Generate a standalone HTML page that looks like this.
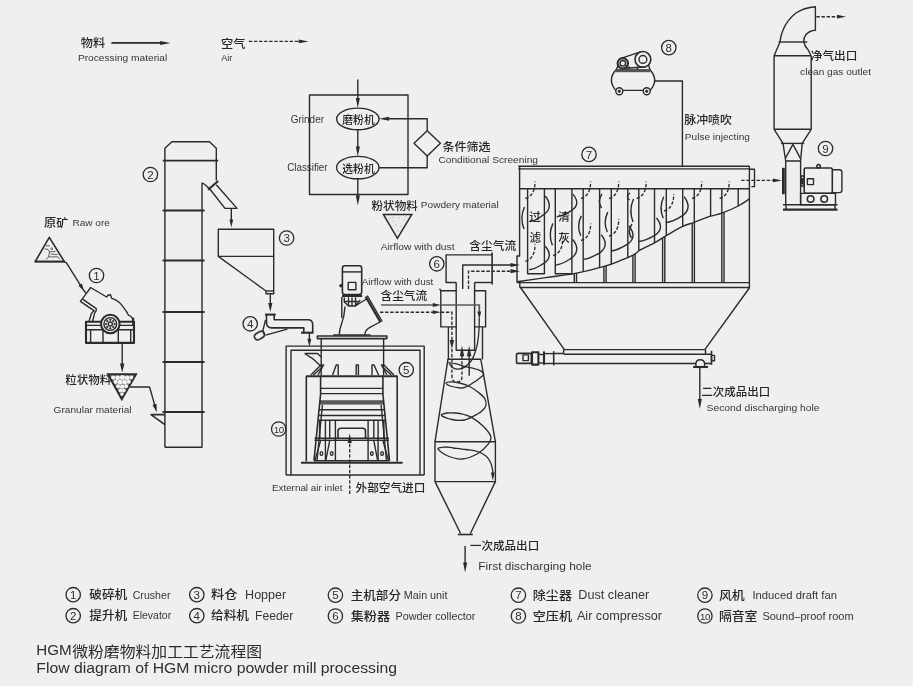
<!DOCTYPE html>
<html lang="zh">
<head>
<meta charset="utf-8">
<title>HGM微粉磨物料加工工艺流程图</title>
<style>
html,body{margin:0;padding:0;background:#efefef;}
body{width:913px;height:686px;overflow:hidden;}
svg{display:block;will-change:transform;}
text{font-family:"Liberation Sans","Noto Sans CJK SC",sans-serif;}
.l{fill:none;stroke:#2b2b2b;stroke-width:1.4;stroke-linejoin:round;stroke-linecap:butt;}
.s{fill:none;stroke:#2b2b2b;stroke-width:1.3;stroke-linejoin:round;}
.m{fill:none;stroke:#2b2b2b;stroke-width:1.6;stroke-linejoin:round;}
.t{fill:none;stroke:#2b2b2b;stroke-width:2.1;stroke-linejoin:round;}
.t2{fill:none;stroke:#2b2b2b;stroke-width:1.8;stroke-linejoin:round;}
.tt{fill:none;stroke:#2b2b2b;stroke-width:2.8;}
.gr{fill:none;stroke:#5a5a5a;stroke-width:1.7;}
.f{fill:none;stroke:#3a3a3a;stroke-width:0.8;}
.d{fill:none;stroke:#2b2b2b;stroke-width:1.35;stroke-dasharray:3.4 1.7;}
.d2{fill:none;stroke:#2b2b2b;stroke-width:1.3;stroke-dasharray:3.4 1.8;}
.ld{fill:none;stroke:#2b2b2b;stroke-width:1.1;stroke-dasharray:9 2;}
.k{fill:#2b2b2b;stroke:#2b2b2b;stroke-width:0.8;}
.w{fill:#efefef;stroke:#2b2b2b;stroke-width:1.4;}
.h{fill:#2b2b2b;stroke:none;}
.n{fill:none;stroke:#2b2b2b;stroke-width:1.3;}
.dot{fill:#999;stroke:none;}
.e{fill:#363636;}
.g{fill:#2e2e2e;}
.c{fill:#262626;font-weight:500;}
.tl{fill:#2e2e2e;}
.c2{fill:#2a2a2a;font-weight:400;}
</style>
</head>
<body>
<svg width="913" height="686" viewBox="0 0 913 686">
<rect x="0" y="0" width="913" height="686" fill="#efefef"/>
<text class="c" x="80.7" y="47.3" font-size="11.6" textLength="24.5" lengthAdjust="spacingAndGlyphs">物料</text>
<path class="m" d="M111.4 42.9 L164.3 42.9"/>
<polygon class="h" points="170.6,42.9 160.1,44.9 160.1,40.9"/>
<text class="e" x="77.9" y="60.5" font-size="9.5" textLength="89.4" lengthAdjust="spacingAndGlyphs">Processing material</text>
<text class="c" x="221.1" y="47.8" font-size="11.6" textLength="24.5" lengthAdjust="spacingAndGlyphs">空气</text>
<path class="d" d="M248.8 41.4 L302.6 41.4"/>
<polygon class="h" points="308.6,41.4 298.6,43.2 298.6,39.5"/>
<text class="e" x="221.2" y="60.5" font-size="9.5" textLength="11.1" lengthAdjust="spacingAndGlyphs">Air</text>
<rect class="l" x="309.5" y="95" width="98.5" height="99.5"/>
<line class="l" x1="357.8" y1="79.6" x2="357.8" y2="100"/>
<polygon class="h" points="357.8,108.1 355.8,98.1 359.9,98.1"/>
<line class="l" x1="357.8" y1="129.7" x2="357.8" y2="148"/>
<polygon class="h" points="357.8,156.4 355.8,146.4 359.9,146.4"/>
<line class="l" x1="357.8" y1="178.8" x2="357.8" y2="197"/>
<polygon class="h" points="357.8,205.6 355.8,195.6 359.9,195.6"/>
<ellipse class="l" cx="357.8" cy="118.9" rx="21.2" ry="10.8" stroke-width="1.5"/>
<ellipse class="l" cx="357.8" cy="167.6" rx="21.2" ry="11.2" stroke-width="1.5"/>
<text class="c" x="342.3" y="124.3" font-size="11.2" textLength="32.4" lengthAdjust="spacingAndGlyphs">磨粉机</text>
<text class="c" x="342.3" y="173.1" font-size="11.2" textLength="32.4" lengthAdjust="spacingAndGlyphs">选粉机</text>
<path class="l" d="M427.2 130.7 L440.4 143.3 L427.2 155.9 L414 143.3 Z"/>
<path class="l" d="M427.2 130.7 L427.2 118.7 L385 118.7"/>
<polygon class="h" points="379,118.7 389,116.7 389,120.8"/>
<path class="l" d="M427.2 155.9 L427.2 167.7 L379 167.7"/>
<text class="e" x="290.8" y="122.7" font-size="10.3" textLength="33.2" lengthAdjust="spacingAndGlyphs">Grinder</text>
<text class="e" x="287.2" y="171.1" font-size="10.3" textLength="40.4" lengthAdjust="spacingAndGlyphs">Classifier</text>
<text class="c" x="442.5" y="150.5" font-size="11.6" textLength="47.9" lengthAdjust="spacingAndGlyphs">条件筛选</text>
<text class="e" x="438.4" y="163" font-size="9.5" textLength="99.6" lengthAdjust="spacingAndGlyphs">Conditional Screening</text>
<text class="c" x="371.5" y="209.9" font-size="11.6" textLength="46.5" lengthAdjust="spacingAndGlyphs">粉状物料</text>
<text class="e" x="420.8" y="207.9" font-size="9.5" textLength="77.9" lengthAdjust="spacingAndGlyphs">Powdery material</text>
<polygon points="383.4,214.4 411.8,214.4 397.4,238.3" fill="#ebebeb" stroke="#2b2b2b" stroke-width="1.5"/>
<circle class="dot" cx="390" cy="218" r="0.6"/>
<circle class="dot" cx="394" cy="221" r="0.6"/>
<circle class="dot" cx="399" cy="218" r="0.6"/>
<circle class="dot" cx="404" cy="220" r="0.6"/>
<circle class="dot" cx="396" cy="225" r="0.6"/>
<circle class="dot" cx="401" cy="226" r="0.6"/>
<circle class="dot" cx="398" cy="231" r="0.6"/>
<circle class="dot" cx="393" cy="217.5" r="0.6"/>
<circle class="dot" cx="406" cy="217" r="0.6"/>
<text class="e" x="380.7" y="249.7" font-size="9.5" textLength="73.8" lengthAdjust="spacingAndGlyphs">Airflow with dust</text>
<text class="c" x="469.3" y="249.9" font-size="11.5" textLength="46.9" lengthAdjust="spacingAndGlyphs">含尘气流</text>
<text class="c" x="44" y="226.5" font-size="11.6" textLength="24.4" lengthAdjust="spacingAndGlyphs">原矿</text>
<text class="e" x="72.6" y="226" font-size="9.5" textLength="37.2" lengthAdjust="spacingAndGlyphs">Raw ore</text>
<path class="m" d="M35.2 261.6 L49.3 237.3 L64.3 261.6"/>
<line class="t" x1="34.6" y1="261.6" x2="65" y2="261.6"/>
<path class="f" d="M45.9 245.8 L50 245.8 M44.4 248.9 L48 249.4 L49.5 251.9 L48.5 257 L45.9 259.6 M49.5 251.9 L55.6 251.4 M50.5 254 L57.7 254.5 M48.5 257 L57.7 256.7 L59.7 259.1"/>
<circle class="f" cx="51.7" cy="248.7" r="0.9"/>
<path class="l" d="M64.3 261.8 L66.3 262.7 L81.8 287.3"/>
<polygon class="h" points="84.4,291.4 78.5,285.7 81.8,283.6"/>
<line class="l" x1="83" y1="289.4" x2="86" y2="293.3"/>
<circle class="n" cx="96.5" cy="275.5" r="7.2"/>
<text class="g" x="96.5" y="279.6" font-size="11.5" text-anchor="middle">1</text>
<path class="l" d="M89 321.5 L91.3 313.7 Q93 311.2 94.3 310.8 L80.4 301.3 L87 292.6 L90.6 287.5 L106.6 297 L108.2 295 L110.5 294.8 L111.7 298.4 Q119 300.5 122.7 306.4 Q126.5 311 128.5 315.2 Q132.5 316.5 133.2 321.5"/>
<path class="l" d="M82.6 299.2 L96.3 308.6 Q96.8 311 94.6 313.2 L92.6 321.5"/>
<rect class="t" x="86" y="321.7" width="48" height="21.2"/>
<line class="t" x1="133.2" y1="317.6" x2="133.2" y2="326"/>
<line class="l" x1="86" y1="325.4" x2="134" y2="325.4"/>
<line class="l" x1="86" y1="329.8" x2="134" y2="329.8"/>
<line class="l" x1="90.6" y1="329.8" x2="90.6" y2="342.9"/>
<line class="l" x1="103" y1="329.8" x2="103" y2="342.9"/>
<line class="l" x1="118.3" y1="329.8" x2="118.3" y2="342.9"/>
<line class="l" x1="130.7" y1="329.8" x2="130.7" y2="342.9"/>
<circle cx="110.3" cy="324" r="9.3" fill="#efefef" stroke="#2b2b2b" stroke-width="2"/>
<circle class="l" cx="110.3" cy="324" r="6.4"/>
<circle class="l" cx="110.3" cy="324" r="2"/>
<circle class="k" cx="114.6" cy="324" r="0.8"/>
<circle class="k" cx="113.3" cy="327" r="0.8"/>
<circle class="k" cx="110.3" cy="328.3" r="0.8"/>
<circle class="k" cx="107.3" cy="327" r="0.8"/>
<circle class="k" cx="106" cy="324" r="0.8"/>
<circle class="k" cx="107.3" cy="321" r="0.8"/>
<circle class="k" cx="110.3" cy="319.7" r="0.8"/>
<circle class="k" cx="113.3" cy="321" r="0.8"/>
<path class="l" d="M122.2 342.9 L122.2 367.2"/>
<polygon class="h" points="122.2,372.6 120,363.6 124.4,363.6"/>
<polygon points="108,374.2 136,374.2 121.8,399.1" fill="#777" stroke="#2b2b2b" stroke-width="2" stroke-linejoin="miter"/>
<circle cx="113.2" cy="377.6" r="2.1" fill="#f2f2f2"/>
<circle cx="117.6" cy="377.8" r="2.4" fill="#f2f2f2"/>
<circle cx="122.4" cy="377.6" r="2.5" fill="#f2f2f2"/>
<circle cx="127.2" cy="377.8" r="2.4" fill="#f2f2f2"/>
<circle cx="131.4" cy="377.4" r="1.9" fill="#f2f2f2"/>
<circle cx="115.6" cy="381.8" r="2.1" fill="#f2f2f2"/>
<circle cx="120" cy="382.2" r="2.4" fill="#f2f2f2"/>
<circle cx="124.6" cy="382.2" r="2.4" fill="#f2f2f2"/>
<circle cx="128.8" cy="381.8" r="2" fill="#f2f2f2"/>
<circle cx="118" cy="386.2" r="2" fill="#f2f2f2"/>
<circle cx="122.2" cy="386.6" r="2.2" fill="#f2f2f2"/>
<circle cx="126.2" cy="386.2" r="1.9" fill="#f2f2f2"/>
<circle cx="120.4" cy="390.4" r="1.9" fill="#f2f2f2"/>
<circle cx="123.8" cy="390.6" r="1.9" fill="#f2f2f2"/>
<circle cx="121.9" cy="394.2" r="1.6" fill="#f2f2f2"/>
<text class="c" x="65.3" y="383.8" font-size="11.6" textLength="46.1" lengthAdjust="spacingAndGlyphs">粒状物料</text>
<text class="e" x="53.6" y="413" font-size="9.5" textLength="78" lengthAdjust="spacingAndGlyphs">Granular material</text>
<path class="l" d="M129.8 387 L149.6 387 L155.4 407.6"/>
<polygon class="h" points="156.8,412.5 152.5,404.9 156.5,403.8"/>
<path class="l" d="M164.9 447.2 L164.9 148.2 L171.9 141.7 L209.5 141.7 L216.3 148.2 L216.3 180.5"/>
<path class="l" d="M204.5 184.2 L202 183.2 L202 447.2 L164.9 447.2"/>
<line class="t2" x1="162.8" y1="160.6" x2="218.2" y2="160.6"/>
<line class="t2" x1="162.6" y1="210.5" x2="204.6" y2="210.5"/>
<line class="t2" x1="162.6" y1="260.5" x2="204.6" y2="260.5"/>
<line class="t2" x1="162.6" y1="312" x2="204.6" y2="312"/>
<line class="t2" x1="162.6" y1="362" x2="204.6" y2="362"/>
<line class="t2" x1="162.6" y1="412" x2="204.6" y2="412"/>
<path class="l" d="M204.5 184.2 L209.8 189 L225 208.4 L237 208.4 L216.3 184.7"/>
<line class="t" x1="208" y1="189.8" x2="218.2" y2="181"/>
<path class="l" d="M231.3 208.4 L231.3 222.7"/>
<polygon class="h" points="231.3,227.5 229.5,219.5 233.2,219.5"/>
<path class="m" d="M164.9 414.6 L151 414.6 L164.9 424.7"/>
<circle class="n" cx="150.4" cy="174.5" r="7.2"/>
<text class="g" x="150.4" y="178.6" font-size="11.5" text-anchor="middle">2</text>
<path class="l" d="M218.3 256.4 L218.3 229.3 L273.7 229.3 L273.7 293.8 L266 293.8 L266 291 L218.3 256.4 L273.7 256.4"/>
<line class="l" x1="266" y1="291" x2="273.7" y2="291"/>
<path class="l" d="M270.3 294.2 L270.3 306.6"/>
<polygon class="h" points="270.3,312 268.2,303 272.4,303"/>
<circle class="n" cx="286.6" cy="238" r="7.2"/>
<text class="g" x="286.6" y="242.1" font-size="11.5" text-anchor="middle">3</text>
<line class="t" x1="265" y1="314.6" x2="275.7" y2="314.6"/>
<path class="m" d="M266.5 314.6 L266.5 322.6 Q266.5 327.9 271.8 327.9 L303.8 327.9 L303.8 332.4"/>
<path class="m" d="M274.2 314.6 L274.2 319.7 L308 319.7 Q312.7 319.7 312.7 324.6 L312.7 332.4"/>
<line class="t" x1="301" y1="332.7" x2="313.5" y2="332.7"/>
<path class="l" d="M265.6 320 L263 329.9 L264.2 334.2"/>
<path class="l" d="M287.4 329.1 L265.5 335.2"/>
<rect class="m" x="254.2" y="332.3" width="10.4" height="6.6" rx="3.3" transform="rotate(-30 259.4 335.6)"/>
<circle class="n" cx="250.2" cy="323.8" r="7.2"/>
<text class="g" x="250.2" y="327.9" font-size="11.5" text-anchor="middle">4</text>
<path class="l" d="M309.4 332.7 L309.4 341.9"/>
<polygon class="h" points="309.4,346.7 307.4,338.7 311.3,338.7"/>
<path class="l" d="M286.1 475 L286.1 346.1 L424.2 346.1 L424.2 475"/>
<path class="l" d="M291 475 L291 350.3 L420 350.3 L420 475"/>
<line class="l" x1="286.1" y1="475" x2="424.2" y2="475"/>
<circle class="n" cx="278.7" cy="429" r="7.2"/>
<text class="g" x="278.7" y="432.5" font-size="9.8" text-anchor="middle" letter-spacing="-0.6">10</text>
<circle class="n" cx="406.3" cy="369.7" r="7.2"/>
<text class="g" x="406.3" y="373.8" font-size="11.5" text-anchor="middle">5</text>
<rect class="m" x="342.4" y="265.7" width="19.3" height="28.8" rx="2.5"/>
<line class="l" x1="342.4" y1="271.9" x2="361.7" y2="271.9"/>
<line class="t" x1="342" y1="296" x2="362.2" y2="296"/>
<rect class="l" x="348.2" y="282.4" width="7.7" height="7.3"/>
<circle class="k" cx="340.9" cy="285.7" r="1.3"/>
<path class="l" d="M344.3 297.4 L344.3 302 L348.6 306 L355.2 306 L360.3 300"/>
<line class="l" x1="348.5" y1="297.4" x2="348.5" y2="306"/>
<line class="l" x1="352" y1="297.4" x2="352" y2="306"/>
<line class="l" x1="355.5" y1="297.4" x2="355.5" y2="305"/>
<line class="l" x1="344.3" y1="301.5" x2="358" y2="301.5"/>
<line class="l" x1="341.8" y1="297" x2="341.8" y2="318"/>
<path class="l" d="M345 306.5 Q344.5 316 341.5 324 Q339.5 329 339.2 334.8"/>
<path class="l" d="M355.2 306 L366.5 299"/>
<path class="l" d="M380 322 L369.5 327.6 Q365.2 330 364.7 334.8"/>
<line class="t" x1="365.6" y1="296.6" x2="380.6" y2="322.4"/>
<line class="l" x1="367.2" y1="295.7" x2="382.2" y2="321.5"/>
<line class="l" x1="333.3" y1="335" x2="370.5" y2="335"/>
<rect class="m" x="317.4" y="336" width="69.4" height="2.6"/>
<line class="l" x1="321.2" y1="338.6" x2="321.2" y2="375.5"/>
<line class="l" x1="383.6" y1="338.6" x2="383.6" y2="375.5"/>
<path class="l" d="M304.7 353.5 L317.5 353.5 L321.2 357"/>
<path class="l" d="M304.7 353.5 L313.4 359.2 L321.2 366.5"/>
<path class="l" d="M310.9 375 L321 365 L323.6 365 L318 375"/>
<path class="l" d="M313.5 375 L321.2 368"/>
<path class="l" d="M332.6 375 L336.2 365 L338.2 365 L338.2 375"/>
<path class="l" d="M356.2 375 L356.2 365 L358.4 365 L358.4 375"/>
<path class="l" d="M372 375 L372 365 L374 365 L378.6 375"/>
<path class="l" d="M393.9 375 L384 365 L381.4 365 L387 375"/>
<path class="l" d="M391.3 375 L383.6 368"/>
<line class="t" x1="306" y1="376.2" x2="397.6" y2="376.2"/>
<line class="m" x1="306.3" y1="376.2" x2="306.3" y2="461.5"/>
<line class="m" x1="397.2" y1="376.2" x2="397.2" y2="461.5"/>
<line class="l" x1="320.6" y1="388.4" x2="382.9" y2="388.4"/>
<line class="l" x1="320.6" y1="393.6" x2="382.9" y2="393.6"/>
<rect x="319.8" y="400.2" width="63.9" height="4.4" fill="#5a5a5a"/>
<line class="m" x1="319" y1="409.8" x2="384.5" y2="409.8"/>
<line class="m" x1="318.4" y1="415.5" x2="385.1" y2="415.5"/>
<line class="m" x1="317.9" y1="420.3" x2="385.6" y2="420.3"/>
<path class="m" d="M320.6 376.2 L320.6 394 L314 460.7"/>
<path class="m" d="M382.9 376.2 L382.9 394 L389.5 460.7"/>
<path class="l" d="M322.4 405 L317 460.7"/>
<path class="l" d="M381.1 405 L386.5 460.7"/>
<line class="m" x1="319.7" y1="420.3" x2="319.7" y2="438.4"/>
<line class="m" x1="383.8" y1="420.3" x2="383.8" y2="438.4"/>
<line class="l" x1="329.7" y1="420.3" x2="329.7" y2="438.4"/>
<line class="l" x1="373.8" y1="420.3" x2="373.8" y2="438.4"/>
<line class="l" x1="325.4" y1="420.3" x2="325.4" y2="460.7"/>
<line class="l" x1="378.1" y1="420.3" x2="378.1" y2="460.7"/>
<line class="l" x1="335.4" y1="420.3" x2="335.4" y2="460.7"/>
<line class="l" x1="368.1" y1="420.3" x2="368.1" y2="460.7"/>
<line class="m" x1="314.6" y1="438.4" x2="388.9" y2="438.4"/>
<line class="l" x1="314.6" y1="440.4" x2="388.9" y2="440.4"/>
<path class="m" d="M338 438.4 L338 431 Q338 428.3 340.8 428.3 L362.7 428.3 Q365.5 428.3 365.5 431 L365.5 438.4"/>
<path class="l" d="M320.6 440.6 L314.9 460.7"/>
<path class="l" d="M382.9 440.6 L388.6 460.7"/>
<path class="l" d="M329.7 440.6 L325.8 460.7"/>
<path class="l" d="M373.8 440.6 L377.7 460.7"/>
<ellipse class="l" cx="321.4" cy="453.5" rx="1.3" ry="1.9" stroke-width="1.1"/>
<ellipse class="l" cx="331.7" cy="453.5" rx="1.3" ry="1.9" stroke-width="1.1"/>
<ellipse class="l" cx="371.8" cy="453.5" rx="1.3" ry="1.9" stroke-width="1.1"/>
<ellipse class="l" cx="382.1" cy="453.5" rx="1.3" ry="1.9" stroke-width="1.1"/>
<line class="l" x1="314" y1="460.7" x2="389.5" y2="460.7"/>
<line class="t" x1="301" y1="462.7" x2="402.6" y2="462.7"/>
<path class="d2" d="M349.7 494 L349.7 439.3"/>
<polygon class="h" points="349.7,433.6 351.8,443.1 347.6,443.1"/>
<text class="e" x="271.9" y="491.2" font-size="9.5" textLength="70.7" lengthAdjust="spacingAndGlyphs">External air inlet</text>
<text class="c" x="355.5" y="491.5" font-size="11.6" textLength="69.9" lengthAdjust="spacingAndGlyphs">外部空气进口</text>
<text class="e" x="361.7" y="285" font-size="9.5" textLength="71.7" lengthAdjust="spacingAndGlyphs">Airflow with dust</text>
<text class="c" x="380.5" y="300" font-size="11.5" textLength="46.6" lengthAdjust="spacingAndGlyphs">含尘气流</text>
<path class="gr" d="M381 305 L436 305"/>
<polygon class="h" points="440.8,305 432.8,306.9 432.8,303.1"/>
<path class="d" d="M380 312.2 L436 312.2"/>
<polygon class="h" points="440.8,312.2 432.8,314.1 432.8,310.3"/>
<path class="l" d="M456.2 282.5 L446.1 282.5 L446.1 254.9 L492.1 254.9"/>
<line class="m" x1="492.1" y1="252.5" x2="492.1" y2="284.6"/>
<line class="l" x1="474.6" y1="282.5" x2="492.1" y2="282.5"/>
<path class="l" d="M456.2 282.5 L456.2 350.2 L474.6 350.2 L474.6 282.5"/>
<path class="l" d="M456.2 290.7 L440.8 290.7 L440.8 326.9 L456.2 326.9"/>
<path class="l" d="M439.6 288.6 L440.8 290.7"/>
<path class="l" d="M474.6 290.7 L485.6 290.7 L485.6 326.9 L474.6 326.9"/>
<line class="l" x1="448.4" y1="326.9" x2="448.4" y2="359.2"/>
<line class="l" x1="482.5" y1="326.9" x2="482.5" y2="359.2"/>
<path class="l" d="M462.7 289 L462.7 265 L514.3 265"/>
<polygon class="h" points="520,265 510.5,267.1 510.5,262.9"/>
<path class="d" d="M468.5 289 L468.5 271.2 L514.3 271.2"/>
<polygon class="h" points="520,271.2 510.5,273.3 510.5,269.1"/>
<path class="gr" d="M440.8 305 L479.3 305 L479.3 312"/>
<polygon class="h" points="479.3,319.5 477.4,311.5 481.2,311.5"/>
<path class="s" d="M479.3 318 C479.3 336 477.5 345 475.8 350.3 C474 356 472.5 359.5 470.7 361.5 C468 365 465 368.4 458.5 369.2 C454 369.5 451 366.5 449.3 363.6"/>
<path class="d" d="M440.8 312.2 L451.9 312.2 L451.9 341"/>
<polygon class="h" points="451.9,349 449.6,340 454.1,340"/>
<path class="d" d="M451.9 349 L451.9 376.5 Q451.9 382 457 382 Q462 382 462 376.5 L462 355"/>
<polygon class="h" points="462,345.7 464.2,356.2 459.8,356.2"/>
<path class="l" d="M469.2 375.8 L469.2 352"/>
<polygon class="h" points="469.2,345.7 471.4,356.2 466.9,356.2"/>
<circle class="n" cx="436.8" cy="263.8" r="7.2"/>
<text class="g" x="436.8" y="267.9" font-size="11.5" text-anchor="middle">6</text>
<line class="l" x1="447.5" y1="359.2" x2="481.3" y2="359.2"/>
<path class="l" d="M448 359.2 L435 441.7 L435 481.6 L460.6 533.5"/>
<path class="l" d="M480.8 359.2 L495.4 441.7 L495.4 481.6 L470.4 533.5"/>
<line class="l" x1="435" y1="441.7" x2="495.4" y2="441.7"/>
<line class="l" x1="435" y1="481.6" x2="495.4" y2="481.6"/>
<line class="m" x1="457.8" y1="534.5" x2="472.8" y2="534.5"/>
<path class="s" d="M448.3 362.6 C449.5 362.8 452.5 362.9 455.4 363.6 C458.3 364.3 461.9 365.6 465.6 366.6 C469.4 367.6 474.9 368.5 477.9 369.7 C480.9 370.9 483.3 372.4 483.6 373.8 C483.9 375.2 481.7 376.4 479.9 377.9 C478.1 379.4 475.1 381.5 472.8 383 C470.5 384.5 468.1 386.2 466 387 C463.9 387.8 463.1 388.2 460.5 388 C457.9 387.8 452.7 386.8 450.3 386 C447.9 385.2 446 383.7 446.2 383 C446.4 382.3 448.8 381.7 451.3 381.8 C453.9 381.9 458.4 382.7 461.5 383.5 C464.6 384.3 467 385.1 469.7 386.5 C472.4 387.9 475.4 390 477.9 392 C480.4 394 483.2 396.1 484.6 398.3 C486 400.5 486.3 403.1 486 405 C485.7 406.9 484.4 408.5 483 410 C481.6 411.5 480.6 412.3 477.5 414 C474.4 415.7 468.6 419.1 464.4 420 C460.1 420.9 455.8 420.3 452 419.5 C448.2 418.7 442.2 416.5 441.4 415.4 C440.6 414.3 444.6 413.4 447 413 C449.4 412.6 452.8 412.8 455.6 413 C458.4 413.2 461.3 413.7 464 414.5 C466.7 415.3 468.8 415.7 472 417.6 C475.2 419.5 479.9 422.9 483 426 C486.1 429.1 489.7 433 490.6 436 C491.5 439 490.6 440.9 488.4 443.9 C486.2 446.8 481.9 451.2 477.5 453.7 C473.1 456.2 466.9 458.6 462 459 C457.1 459.4 452 457.7 448 456 C444 454.3 438.5 450.5 438 449 C437.5 447.5 442.4 447.2 445 447 C447.6 446.8 449.9 447.6 453.4 448 C456.9 448.4 462 448.9 466 449.5 C470 450.1 474.2 450.4 477.5 451.5 C480.8 452.6 483.8 454.2 486 456 C488.2 457.8 489.5 460.2 490.6 462.5 C491.7 464.8 492.2 468.1 492.6 470 C493 471.9 492.8 473.3 492.8 474"/>
<polygon class="h" points="492.8,480.5 490.9,472.5 494.7,472.5"/>
<path class="l" d="M465.1 545.9 L465.1 566.5"/>
<polygon class="h" points="465.1,572.5 463.1,562.5 467.2,562.5"/>
<text class="c" x="469.9" y="550" font-size="11.5" textLength="69.3" lengthAdjust="spacingAndGlyphs">一次成品出口</text>
<text class="e" x="478.3" y="569.6" font-size="11.4" textLength="113.4" lengthAdjust="spacingAndGlyphs">First discharging hole</text>
<line class="l" x1="518.3" y1="166.2" x2="749.4" y2="166.2"/>
<line class="l" x1="518.3" y1="168.9" x2="749.4" y2="168.9"/>
<path class="l" d="M749.4 169.3 L754.5 169.3 L754.5 186.6 L751.4 186.6"/>
<path class="l" d="M519.6 166.2 L519.6 256 L517 256 L517 282.6"/>
<line class="m" x1="519.6" y1="188.7" x2="749.4" y2="188.7"/>
<line class="l" x1="749.4" y1="166.2" x2="749.4" y2="287.5"/>
<line class="l" x1="517" y1="282.6" x2="749.4" y2="282.6"/>
<line class="m" x1="519.5" y1="287.5" x2="750" y2="287.5"/>
<line class="l" x1="519.8" y1="282.6" x2="519.8" y2="287.5"/>
<path class="l" d="M520.5 287.5 L564.4 349.6 L704.8 349.6 L749.7 287.5"/>
<path class="l" d="M517 281.8 C521.8 281.1 536.1 279 545.8 277.6 C555.5 276.2 565.5 275.3 575.4 273.4 C585.3 271.5 597.1 268.5 605 266.2 C612.9 263.9 617.9 261.5 622.7 259.6 C627.5 257.7 631.1 256.2 634 254.6 C636.9 253 636.8 251.9 640.2 249.9 C643.6 247.9 650.1 245.2 654.5 242.8 C658.9 240.4 661.6 238.3 666.3 235.6 C671 232.9 678 228.6 682.7 226.4 C687.4 224.2 689.6 224 694.3 222.3 C698.9 220.6 706 217.7 710.6 216.2 C715.2 214.7 717.2 214.9 721.8 213.2 C726.4 211.5 733.6 208.4 738.2 206 C742.8 203.6 747.5 200.1 749.4 198.9"/>
<line class="l" x1="574.3" y1="273.6" x2="574.3" y2="282.6"/>
<line class="l" x1="576.5" y1="273.1" x2="576.5" y2="282.6"/>
<line class="l" x1="603.9" y1="266.5" x2="603.9" y2="282.6"/>
<line class="l" x1="606.1" y1="265.8" x2="606.1" y2="282.6"/>
<line class="l" x1="632.9" y1="255.1" x2="632.9" y2="282.6"/>
<line class="l" x1="635.1" y1="253.8" x2="635.1" y2="282.6"/>
<line class="l" x1="662.6" y1="237.9" x2="662.6" y2="282.6"/>
<line class="l" x1="664.8" y1="236.5" x2="664.8" y2="282.6"/>
<line class="l" x1="692.2" y1="223" x2="692.2" y2="282.6"/>
<line class="l" x1="694.4" y1="222.3" x2="694.4" y2="282.6"/>
<line class="l" x1="721.8" y1="213.2" x2="721.8" y2="282.6"/>
<line class="l" x1="724" y1="212.2" x2="724" y2="282.6"/>
<path class="l" d="M527.6 188.7 L527.6 273.8 L544.4 273.8 L544.4 188.7"/>
<path class="l" d="M555.3 188.7 L555.3 273.8 L571.9 273.8 L571.9 188.7"/>
<line class="l" x1="583.2" y1="188.7" x2="583.2" y2="271.5"/>
<line class="l" x1="599.6" y1="188.7" x2="599.6" y2="267.5"/>
<line class="l" x1="611.3" y1="188.7" x2="611.3" y2="263.9"/>
<line class="l" x1="627.8" y1="188.7" x2="627.8" y2="257.3"/>
<line class="l" x1="638.8" y1="188.7" x2="638.8" y2="251"/>
<line class="l" x1="654.5" y1="188.7" x2="654.5" y2="242.8"/>
<line class="l" x1="666.3" y1="188.7" x2="666.3" y2="235.6"/>
<line class="l" x1="682.7" y1="188.7" x2="682.7" y2="226.4"/>
<line class="l" x1="694.3" y1="188.7" x2="694.3" y2="222.3"/>
<line class="l" x1="710.6" y1="188.7" x2="710.6" y2="216.2"/>
<line class="l" x1="721.8" y1="188.7" x2="721.8" y2="213.2"/>
<line class="l" x1="738.2" y1="188.7" x2="738.2" y2="206"/>
<path class="l" d="M545.3 196 C551.3 203.7 550.3 210.1 543.8 214.7 C538.3 218.3 536.2 220.8 529.2 221.6"/>
<path class="l" d="M545.3 246.2 C551.3 253.3 550.3 259.2 543.8 263.4 C538.3 266.7 536.2 269 529.2 269.8"/>
<path class="l" d="M572.8 194.1 C578.8 200.9 577.8 206.6 571.3 210.7 C565.8 213.8 563.7 216 556.7 216.8"/>
<path class="l" d="M572.8 239.5 C578.8 247.2 577.8 253.6 571.3 258.2 C565.8 261.8 562.7 264.3 555.7 265.1"/>
<path class="l" d="M601.2 234.8 C607.2 242.2 606.2 248.3 599.7 252.8 C594.2 256.2 590.2 258.6 583.2 259.4"/>
<path class="l" d="M629 226 C635 233.5 634 239.8 627.5 244.2 C622 247.8 618.3 250.2 611.3 251"/>
<path class="l" d="M656.5 218 C662.5 225.1 661.5 230.9 655 235.2 C649.5 238.4 645.8 240.7 638.8 241.5"/>
<path class="l" d="M684.1 196.8 C690.1 204.5 689.1 210.9 682.6 215.6 C677.1 219.2 673.3 221.7 666.3 222.5"/>
<path class="l" d="M524.5 207 Q519.5 218 524 229"/>
<path class="l" d="M552.9 223.4 Q547.9 234.3 552.4 245.2"/>
<path class="l" d="M581.3 215.9 Q576.3 225.9 580.8 235.8"/>
<path class="l" d="M607.8 212.1 Q602.8 222.1 607.3 232"/>
<path class="l" d="M633.5 199 Q628.5 210.5 633 222"/>
<path class="l" d="M632 224 Q627 231 631.5 238"/>
<path class="l" d="M663.7 196.8 Q658.7 207.6 663.2 218.3"/>
<path class="l" d="M602 194 Q597 201 601.5 208"/>
<path class="l" d="M630 193 Q625 196.5 629.5 200"/>
<path class="d" d="M525.4 198.5 Q535.1 195.5 535 181.5"/>
<path class="d" d="M581 198.5 Q590.7 195.5 590.6 181.5"/>
<path class="d" d="M609.1 198.5 Q618.8 195.5 618.7 181.5"/>
<path class="d" d="M636.6 198.5 Q646.3 195.5 646.2 181.5"/>
<path class="d" d="M692.1 198.5 Q701.8 195.5 701.7 181.5"/>
<path class="d" d="M719.6 198.5 Q729.3 195.5 729.2 181.5"/>
<path class="d" d="M664.1 211 Q673.8 208 673.7 194"/>
<path class="d" d="M525.4 261.3 Q535.1 258.3 535 244.3"/>
<path class="d" d="M553.1 255.6 Q562.8 252.6 562.7 238.6"/>
<path class="d" d="M581 240.5 Q590.7 237.5 590.6 223.5"/>
<path class="d" d="M609.1 236 Q618.8 233 618.7 219"/>
<text class="c" x="529.2" y="221.1" font-size="11" textLength="11.7" lengthAdjust="spacingAndGlyphs">过</text>
<text class="c" x="529.5" y="242" font-size="11" textLength="11.7" lengthAdjust="spacingAndGlyphs">滤</text>
<text class="c" x="558.2" y="220.7" font-size="11" textLength="11.7" lengthAdjust="spacingAndGlyphs">清</text>
<text class="c" x="558.2" y="242.1" font-size="11" textLength="11.7" lengthAdjust="spacingAndGlyphs">灰</text>
<circle class="n" cx="589" cy="154.4" r="7.2"/>
<text class="g" x="589" y="158.5" font-size="11.5" text-anchor="middle">7</text>
<path class="d" d="M741.2 180.4 L776.6 180.4"/>
<polygon class="h" points="782,180.4 773,182.3 773,178.5"/>
<line class="l" x1="563.6" y1="354.2" x2="705.5" y2="354.2"/>
<path class="l" d="M553.7 353.5 L563.6 353.5 L563.6 349.6"/>
<path class="l" d="M705.5 349.6 L705.5 354.2 L711.5 354.2"/>
<line class="m" x1="553.7" y1="363.5" x2="696" y2="363.5"/>
<line class="m" x1="704.8" y1="363.5" x2="711.5" y2="363.5"/>
<rect class="m" x="516.5" y="353.4" width="14.9" height="10" rx="1.5"/>
<rect class="l" x="523" y="354.9" width="5.4" height="5.7"/>
<rect class="t" x="532" y="352.3" width="6.4" height="12.3"/>
<path class="l" d="M538.4 354.5 L543.9 354.5"/>
<path class="l" d="M538.4 363 L543.9 363"/>
<line class="t" x1="544" y1="351.4" x2="544" y2="364.9"/>
<path class="l" d="M544 353.6 L553.7 353.6"/>
<path class="l" d="M544 363.5 L553.7 363.5"/>
<line class="m" x1="553.7" y1="351.2" x2="553.7" y2="365.4"/>
<line class="m" x1="711.5" y1="350.8" x2="711.5" y2="364.8"/>
<rect class="l" x="711.5" y="355.4" width="3" height="5.3"/>
<path class="l" d="M695.9 366.8 L695.9 364 Q695.9 359.7 700.2 359.7 Q704.6 359.7 704.6 364 L704.6 366.8"/>
<line class="t" x1="693.2" y1="367" x2="708" y2="367"/>
<path class="l" d="M699.8 367 L699.8 403"/>
<polygon class="h" points="699.8,409 697.8,399 701.8,399"/>
<text class="c" x="701.4" y="396" font-size="11.5" textLength="68.7" lengthAdjust="spacingAndGlyphs">二次成品出口</text>
<text class="e" x="706.6" y="411" font-size="9.5" textLength="113" lengthAdjust="spacingAndGlyphs">Second discharging hole</text>
<path class="l" d="M615.8 70 Q607 80 615.8 90.4 L650.2 90.4 Q659.2 80 650.2 70 Z"/>
<rect x="615.4" y="69.4" width="35.2" height="2.8" fill="#555"/>
<circle class="w" cx="619.3" cy="91.3" r="3.5"/>
<circle class="k" cx="619.3" cy="91.3" r="1.2"/>
<circle class="w" cx="646.7" cy="91.3" r="3.5"/>
<circle class="k" cx="646.7" cy="91.3" r="1.2"/>
<circle class="t" cx="622.8" cy="63.3" r="5.2"/>
<circle class="l" cx="622.8" cy="63.3" r="2.8"/>
<circle class="m" cx="642.9" cy="59.4" r="7.9"/>
<circle class="l" cx="642.9" cy="59.4" r="3.9"/>
<path class="l" d="M621.6 58.2 L640.6 51.8"/>
<path class="l" d="M625 68.2 L645 67"/>
<path class="l" d="M617.8 66 L616.5 69.6"/>
<path class="l" d="M648.5 65 L650 69.6"/>
<path class="l" d="M629 66.5 L629 69.6"/>
<path class="l" d="M637.5 66.5 L637.5 69.6"/>
<path class="l" d="M654.8 81 L682.4 81 L682.4 166.2"/>
<circle class="n" cx="668.8" cy="47.6" r="7.2"/>
<text class="g" x="668.8" y="51.7" font-size="11.5" text-anchor="middle">8</text>
<text class="c" x="684.3" y="123.7" font-size="11.5" textLength="47.6" lengthAdjust="spacingAndGlyphs">脉冲喷吹</text>
<text class="e" x="684.8" y="139.7" font-size="9.5" textLength="65.1" lengthAdjust="spacingAndGlyphs">Pulse injecting</text>
<path class="l" d="M780 42 Q780.5 36 783 30 Q787 20 796 13 Q804 7.5 815.4 6.7 L815.4 30.2 Q809.5 30.5 806 34.5 Q803.3 38 803.8 42 Q805 47 808.1 49.7 L811 55.8"/>
<line class="l" x1="778.5" y1="42" x2="807.3" y2="42"/>
<path class="l" d="M780 42 L774.1 55.8 L774.1 129.3 L783 143.4"/>
<path class="l" d="M811.2 55.8 L811.2 129.3 L802.2 143.4"/>
<line class="l" x1="774.1" y1="55.8" x2="811.2" y2="55.8"/>
<line class="l" x1="774.1" y1="129.3" x2="811.2" y2="129.3"/>
<line class="l" x1="780.9" y1="143.4" x2="804.2" y2="143.4"/>
<path class="l" d="M783 143.4 L785.7 161 L800.6 161 L802.2 143.4"/>
<path class="l" d="M785.4 158.4 L792.9 144.3 L800.4 158.4"/>
<path class="d" d="M816.4 16.7 L840.6 16.7"/>
<polygon class="h" points="846,16.7 837,18.6 837,14.8"/>
<text class="c" x="810.8" y="60.2" font-size="11.5" textLength="46.6" lengthAdjust="spacingAndGlyphs">净气出口</text>
<text class="e" x="800.1" y="75.4" font-size="9.5" textLength="70.9" lengthAdjust="spacingAndGlyphs">clean gas outlet</text>
<path class="l" d="M785.7 161 L785.7 204.7"/>
<path class="l" d="M800.6 161 L800.6 204.7"/>
<line class="tt" x1="783.4" y1="167.8" x2="783.4" y2="194.2"/>
<line class="l" x1="783" y1="204.7" x2="837.5" y2="204.7"/>
<line class="t" x1="783" y1="209.6" x2="837.5" y2="209.6"/>
<line class="l" x1="786" y1="204.7" x2="786" y2="209.6"/>
<line class="l" x1="835" y1="204.7" x2="835" y2="209.6"/>
<rect class="l" x="800.6" y="193.4" width="34.9" height="11.3"/>
<circle class="m" cx="810.6" cy="199" r="3.3"/>
<circle class="m" cx="824.2" cy="199" r="3.3"/>
<rect class="m" x="804.2" y="168" width="28.1" height="25.2" rx="1.5"/>
<path class="l" d="M832.3 169.7 L839.5 169.7 Q841.9 169.7 841.9 172 L841.9 190.3 Q841.9 192.6 839.5 192.6 L832.3 192.6"/>
<rect class="l" x="800.8" y="176" width="3.4" height="10"/>
<rect class="k" x="801.4" y="178.5" width="1.6" height="5.5"/>
<rect class="l" x="807.4" y="178.7" width="6.1" height="5.9"/>
<circle class="m" cx="818.6" cy="166.2" r="1.7"/>
<circle class="n" cx="825.5" cy="148.5" r="7.2"/>
<text class="g" x="825.5" y="152.6" font-size="11.5" text-anchor="middle">9</text>
<circle class="n" cx="73.2" cy="594.7" r="7.2"/>
<text class="g" x="73.2" y="598.8" font-size="11.5" text-anchor="middle">1</text>
<text class="c" x="89.2" y="599.4" font-size="12" textLength="38.1" lengthAdjust="spacingAndGlyphs">破碎机</text>
<text class="e" x="132.7" y="598.7" font-size="10.6" textLength="37.8" lengthAdjust="spacingAndGlyphs">Crusher</text>
<circle class="n" cx="73.2" cy="615.7" r="7.2"/>
<text class="g" x="73.2" y="619.8" font-size="11.5" text-anchor="middle">2</text>
<text class="c" x="89.2" y="620.4" font-size="12" textLength="38.1" lengthAdjust="spacingAndGlyphs">提升机</text>
<text class="e" x="132.7" y="619.2" font-size="10.6" textLength="38.5" lengthAdjust="spacingAndGlyphs">Elevator</text>
<circle class="n" cx="196.8" cy="594.7" r="7.2"/>
<text class="g" x="196.8" y="598.8" font-size="11.5" text-anchor="middle">3</text>
<text class="c" x="211.1" y="599.4" font-size="12" textLength="26.3" lengthAdjust="spacingAndGlyphs">料仓</text>
<text class="e" x="245.1" y="599" font-size="12.1" textLength="41.1" lengthAdjust="spacingAndGlyphs">Hopper</text>
<circle class="n" cx="196.8" cy="615.7" r="7.2"/>
<text class="g" x="196.8" y="619.8" font-size="11.5" text-anchor="middle">4</text>
<text class="c" x="211.1" y="620.4" font-size="12" textLength="37.8" lengthAdjust="spacingAndGlyphs">给料机</text>
<text class="e" x="255" y="620" font-size="12.1" textLength="38.4" lengthAdjust="spacingAndGlyphs">Feeder</text>
<circle class="n" cx="335.4" cy="595.2" r="7.2"/>
<text class="g" x="335.4" y="599.3" font-size="11.5" text-anchor="middle">5</text>
<text class="c" x="350.7" y="599.9" font-size="12" textLength="50.3" lengthAdjust="spacingAndGlyphs">主机部分</text>
<text class="e" x="403.8" y="599" font-size="10.6" textLength="43.7" lengthAdjust="spacingAndGlyphs">Main unit</text>
<circle class="n" cx="335.4" cy="616" r="7.2"/>
<text class="g" x="335.4" y="620.1" font-size="11.5" text-anchor="middle">6</text>
<text class="c" x="350.7" y="620.7" font-size="12" textLength="39.5" lengthAdjust="spacingAndGlyphs">集粉器</text>
<text class="e" x="395.6" y="619.6" font-size="10.6" textLength="79.8" lengthAdjust="spacingAndGlyphs">Powder collector</text>
<circle class="n" cx="518.4" cy="595.2" r="7.2"/>
<text class="g" x="518.4" y="599.3" font-size="11.5" text-anchor="middle">7</text>
<text class="c" x="532.7" y="599.9" font-size="12" textLength="39.3" lengthAdjust="spacingAndGlyphs">除尘器</text>
<text class="e" x="578.3" y="599.3" font-size="12.1" textLength="71" lengthAdjust="spacingAndGlyphs">Dust cleaner</text>
<circle class="n" cx="518.4" cy="616" r="7.2"/>
<text class="g" x="518.4" y="620.1" font-size="11.5" text-anchor="middle">8</text>
<text class="c" x="532.7" y="620.7" font-size="12" textLength="39.3" lengthAdjust="spacingAndGlyphs">空压机</text>
<text class="e" x="576.9" y="620.3" font-size="12.1" textLength="85.1" lengthAdjust="spacingAndGlyphs">Air compressor</text>
<circle class="n" cx="704.9" cy="595.2" r="7.2"/>
<text class="g" x="704.9" y="599.3" font-size="11.5" text-anchor="middle">9</text>
<text class="c" x="718.9" y="599.9" font-size="12" textLength="25.9" lengthAdjust="spacingAndGlyphs">风机</text>
<text class="e" x="752.4" y="599" font-size="10.6" textLength="84.6" lengthAdjust="spacingAndGlyphs">Induced draft fan</text>
<circle class="n" cx="704.9" cy="616" r="7.2"/>
<text class="g" x="704.9" y="619.5" font-size="9.8" text-anchor="middle" letter-spacing="-0.6">10</text>
<text class="c" x="718.9" y="620.7" font-size="12" textLength="38.6" lengthAdjust="spacingAndGlyphs">隔音室</text>
<text class="e" x="762.4" y="619.6" font-size="10.6" textLength="91.3" lengthAdjust="spacingAndGlyphs">Sound–proof room</text>
<text class="tl" x="36.3" y="654.9" font-size="15.4" textLength="35.4" lengthAdjust="spacingAndGlyphs">HGM</text>
<text class="c2" x="72.2" y="656.5" font-size="15" textLength="189.9" lengthAdjust="spacingAndGlyphs">微粉磨物料加工工艺流程图</text>
<text class="tl" x="36.3" y="672.6" font-size="15" textLength="360.7" lengthAdjust="spacingAndGlyphs">Flow diagram of HGM micro powder mill processing</text>
</svg>
</body>
</html>
